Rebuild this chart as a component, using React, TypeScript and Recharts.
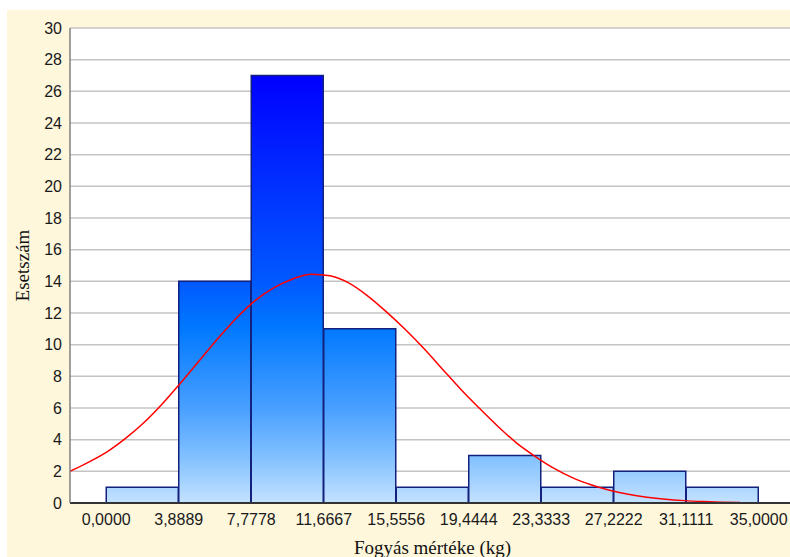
import { ComposedChart, Bar, Line, XAxis, YAxis, CartesianGrid } from 'recharts'

// histogram bins (lower edge) and counts
const binWidth = 3.8889
const binStarts = [0, 3.8889, 7.7778, 11.6667, 15.5556, 19.4444, 23.3333, 27.2222, 31.1111]
const counts = [1, 14, 27, 11, 1, 3, 1, 2, 1]

const xTicks = [0, 3.8889, 7.7778, 11.6667, 15.5556, 19.4444, 23.3333, 27.2222, 31.1111, 35]
const yTicks = [0, 2, 4, 6, 8, 10, 12, 14, 16, 18, 20, 22, 24, 26, 28, 30]

// fitted normal curve
const curveX = [-1.9444, -1, 0, 1, 2, 3, 4, 5, 6, 7, 8, 9, 10, 11, 12, 13, 14, 15, 16, 17, 18, 19, 20, 21, 22, 23, 24, 25, 26, 27, 28, 29, 30, 31, 32, 33, 34]
const curveY = [2.0, 2.55, 3.2, 4.05, 5.05, 6.25, 7.6, 9.0, 10.4, 11.7, 12.8, 13.6, 14.15, 14.45, 14.35, 13.9, 13.1, 12.1, 11.0, 9.8, 8.5, 7.2, 6.0, 4.85, 3.8, 2.95, 2.2, 1.6, 1.15, 0.8, 0.55, 0.37, 0.24, 0.15, 0.09, 0.05, 0.03]

const barData = binStarts.map((s, i) => ({ center: s + binWidth / 2, count: counts[i] }))
const curveData = curveX.map((x, i) => ({ x, y: curveY[i] }))

const domain: [number, number] = [-1.9444, 36.9444]
const fmt = (v: number) => v.toFixed(4).replace('.', ',')

const tickFont = { fill: '#1a1a1a', fontSize: 16, fontFamily: 'Liberation Sans, Arial, sans-serif' }

export default function App() {
    return (
        <div style={{ position: 'absolute', left: 0, top: 0, width: 790, height: 557, overflow: 'hidden', background: '#fff' }}>
            <div style={{ position: 'absolute', left: 7, top: 10, width: 783, height: 547, overflow: 'hidden', background: '#fef7dc' }}>
                <ComposedChart
                    width={800}
                    height={547}
                    data={barData}
                    margin={{ top: 18, right: 12, bottom: 0, left: 0 }}
                    barCategoryGap={0}
                    barGap={0}
                >
                    <defs>
                        <linearGradient id="barFill" gradientUnits="userSpaceOnUse" x1="0" y1="65" x2="0" y2="493">
                            <stop offset="0" stopColor="#0000ff" />
                            <stop offset="0.26" stopColor="#0030ff" />
                            <stop offset="0.48" stopColor="#0058ff" />
                            <stop offset="0.59" stopColor="#0078ff" />
                            <stop offset="0.78" stopColor="#4aa0ff" />
                            <stop offset="0.89" stopColor="#80c0ff" />
                            <stop offset="1" stopColor="#c4e2ff" />
                        </linearGradient>
                    </defs>
                    <CartesianGrid xAxisId="x" vertical={false} stroke="#c4c4c4" strokeWidth={1.5} fill="#ffffff" />
                    <XAxis xAxisId="curve" type="number" dataKey="x" domain={domain} allowDataOverflow hide height={0} />
                    <XAxis
                        xAxisId="x"
                        type="number"
                        dataKey="center"
                        domain={domain}
                        ticks={xTicks}
                        tickFormatter={fmt}
                        allowDataOverflow
                        height={54}
                        tickSize={0}
                        tickMargin={11}
                        tickLine={false}
                        axisLine={{ stroke: '#333', strokeWidth: 2 }}
                        tick={tickFont}
                        interval={0}
                        label={{
                            value: 'Fogyás mértéke (kg)',
                            position: 'insideBottom',
                            offset: 3,
                            fill: '#111',
                            fontSize: 19,
                            fontFamily: 'Liberation Serif, Times New Roman, serif'
                        }}
                    />
                    <XAxis
                        xAxisId="top"
                        orientation="top"
                        type="number"
                        dataKey="center"
                        domain={domain}
                        ticks={xTicks}
                        allowDataOverflow
                        mirror
                        height={0}
                        tickSize={4}
                        tickFormatter={() => ''}
                        tickLine={{ stroke: '#808080', strokeWidth: 1.5 }}
                        axisLine={{ stroke: '#222', strokeWidth: 2 }}
                        interval={0}
                    />
                    <YAxis
                        domain={[0, 30]}
                        ticks={yTicks}
                        interval={0}
                        width={63}
                        tickSize={0}
                        tickMargin={8}
                        tickLine={false}
                        axisLine={{ stroke: '#808080', strokeWidth: 1.5 }}
                        tick={tickFont}
                        label={{
                            content: ({ viewBox }: any) => (
                                <text
                                    x={15}
                                    y={viewBox.y + viewBox.height / 2}
                                    transform={`rotate(-90, 15, ${viewBox.y + viewBox.height / 2})`}
                                    textAnchor="middle"
                                    dominantBaseline="central"
                                    fill="#111"
                                    fontSize={19}
                                    fontFamily="Liberation Serif, Times New Roman, serif"
                                >
                                    Esetszám
                                </text>
                            )
                        }}
                    />
                    <Bar
                        xAxisId="x"
                        dataKey="count"
                        fill="url(#barFill)"
                        stroke="#13207e"
                        strokeWidth={1.5}
                        isAnimationActive={false}
                    />
                    <Line
                        xAxisId="curve"
                        data={curveData}
                        dataKey="y"
                        type="monotone"
                        stroke="#ff0000"
                        strokeWidth={1.5}
                        dot={false}
                        isAnimationActive={false}
                    />
                </ComposedChart>
            </div>
        </div>
    )
}
